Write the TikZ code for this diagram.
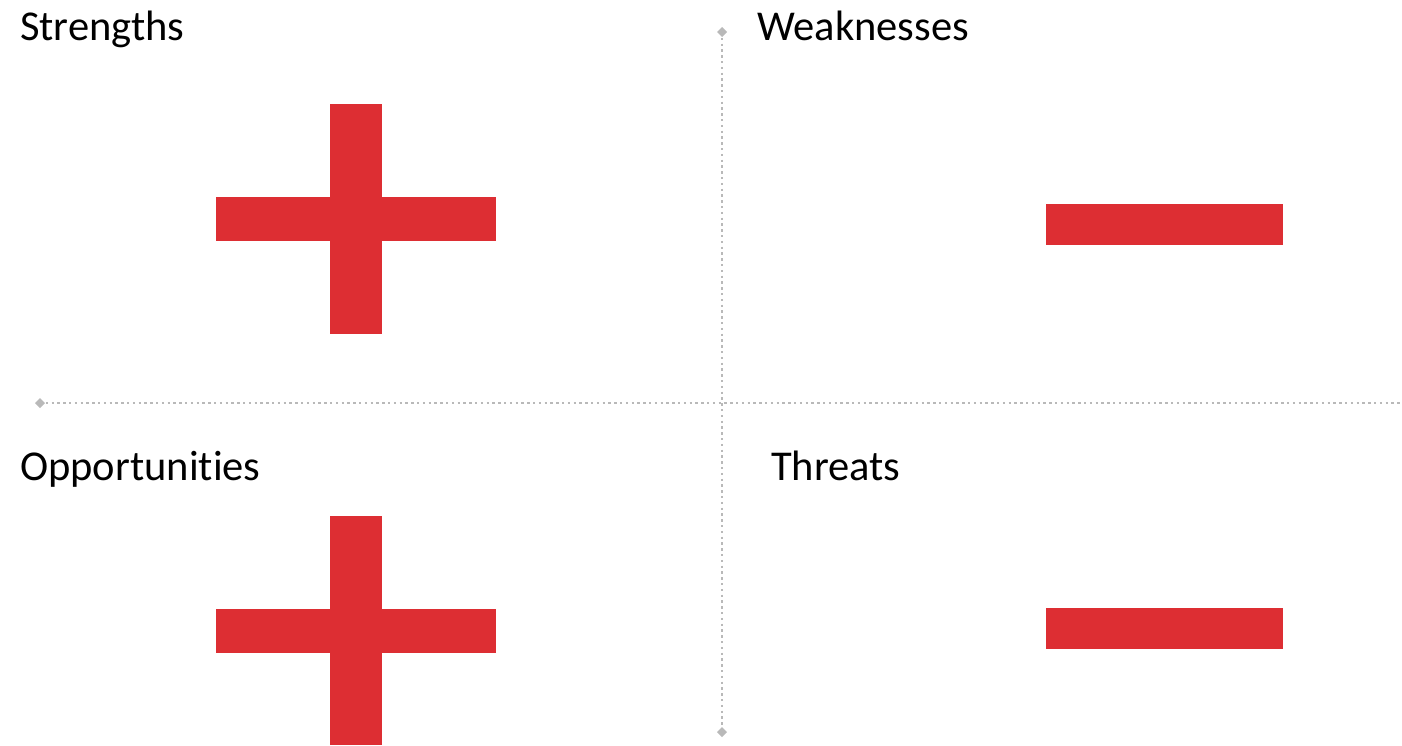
\documentclass[tikz,border=0pt]{standalone}
\usepackage{fontspec}
\setmainfont[Ligatures={NoCommon}]{Carlito}
\definecolor{barred}{RGB}{221,46,51}
\definecolor{axisgray}{RGB}{185,185,185}
\begin{document}
\begin{tikzpicture}[x=1pt,y=-1pt,
  label/.style={anchor=base west,inner sep=0pt,font=\fontsize{42.5}{50}\selectfont,text=black},
  axis/.style={draw=axisgray,line width=2.4pt,dash pattern=on 2.4pt off 3.4pt},
  bar/.style={fill=barred}]
\useasboundingbox (0,0) rectangle (1402,745);
% quadrant axes
\coordinate (vtop) at (722,32);
\coordinate (vbot) at (722,732);
\coordinate (hleft) at (40,403);
\coordinate (hright) at (1402,403);
\draw[axis] (vtop) -- (vbot);
\draw[axis] (hleft) -- (hright);
\foreach \p in {vtop,vbot,hleft}
  \fill[axisgray] (\p) ++(-5,0) -- ++(5,-5) -- ++(5,5) -- ++(-5,5) -- cycle;
% quadrant titles
\node[label] (s) at (20,40) {Strengths};
\node[label] (w) at (757,40) {Weaknesses};
\node[label] (o) at (20,480) {Opportunities};
\node[label] (t) at (771,480) {Threats};
% plus signs
\fill[bar] (330,104) rectangle (382,334);
\fill[bar] (216,197) rectangle (496,241);
\fill[bar] (330,516) rectangle (382,745);
\fill[bar] (216,609) rectangle (496,653);
% minus signs
\fill[bar] (1046,204) rectangle (1283,245);
\fill[bar] (1046,608) rectangle (1283,649);
\end{tikzpicture}
\end{document}
